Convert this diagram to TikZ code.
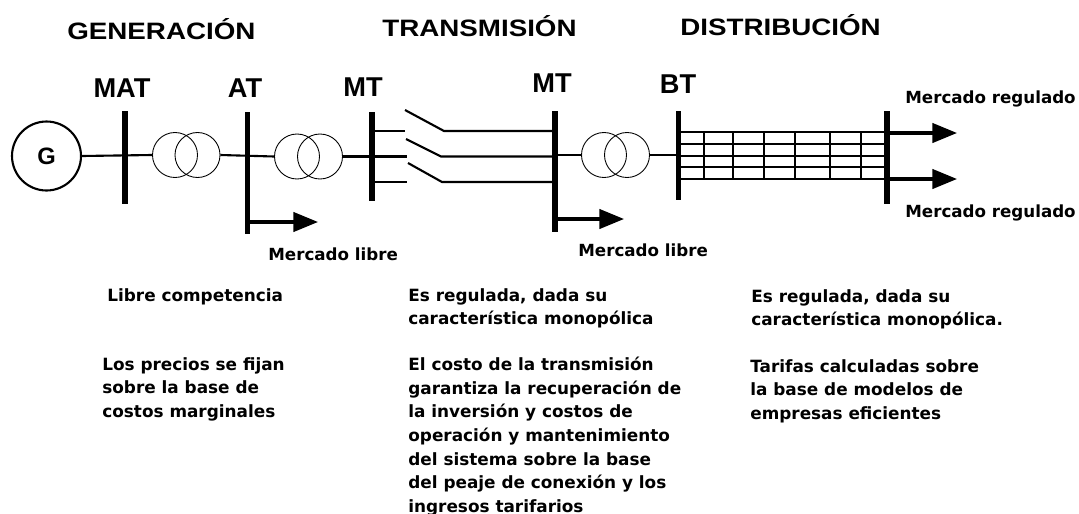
\documentclass[tikz,border=0pt]{standalone}
\usepackage{fontspec}
\setmainfont{DejaVu Sans}
\newfontfamily\headfont{Liberation Sans}
\newfontfamily\widefont[FakeStretch=1.17]{Liberation Sans}
\usetikzlibrary{arrows.meta}

\begin{document}
\begin{tikzpicture}[x=0.02cm, y=-0.02cm,
	bar/.style={line width=2.9pt},
	wire/.style={line width=1.2pt},
	thin wire/.style={line width=0.8pt},
	feeder/.style={line width=1.8pt, -{Triangle[length=14pt, width=11pt]}},
	gen/.style={draw=black, circle, line width=1.2pt, minimum size=1.38cm, inner sep=0pt, font=\headfont\bfseries\fontsize{13.5}{15}\selectfont},
	xfmr/.style={draw=black, circle, line width=0.5pt, minimum size=0.9cm, inner sep=0pt},
	head/.style={inner sep=0pt, anchor=west, font=\widefont\bfseries\fontsize{13.5}{15}\selectfont},
	level/.style={inner sep=0pt, font=\headfont\bfseries\fontsize{15.5}{17}\selectfont},
	tag/.style={inner sep=0pt, anchor=west, font=\bfseries\fontsize{9.5}{11}\selectfont},
	note/.style={inner sep=0pt, anchor=north west, align=left, font=\bfseries\fontsize{9.6}{13.4}\selectfont}]
	\useasboundingbox (0, 0) rectangle (1079, 514);
	\draw (67, 29) node[head] (gen1) {GENERACIÓN};
	\draw (382, 26) node[head] (tra1) {TRANSMISIÓN};
	\draw (680, 25) node[head] (dis1) {DISTRIBUCIÓN};
	\draw (122, 88) node[level] (lmat) {MAT};
	\draw (245, 88) node[level] (lat) {AT};
	\draw (363, 87) node[level] (lmt1) {MT};
	\draw (552, 83) node[level] (lmt2) {MT};
	\draw (678, 84) node[level] (lbt) {BT};

	\draw (46.5, 156) node[gen] (g) {G};
	\draw (175, 155) node[xfmr] (t1a) {};
	\draw (197.5, 155) node[xfmr] (t1b) {};
	\draw (297, 156.5) node[xfmr] (t2a) {};
	\draw (320, 156.5) node[xfmr] (t2b) {};
	\draw (604, 155) node[xfmr] (t3a) {};
	\draw (627, 155) node[xfmr] (t3b) {};

	\coordinate (mat1) at (125, 111);
	\coordinate (mat2) at (125, 204);
	\coordinate (at1) at (247.5, 112);
	\coordinate (at2) at (247.5, 234);
	\coordinate (mt1) at (372, 112);
	\coordinate (mt2) at (372, 201);
	\coordinate (mu1) at (555, 111);
	\coordinate (mu2) at (555, 232);
	\coordinate (bt1) at (678.5, 111);
	\coordinate (bt2) at (678.5, 200);
	\coordinate (rb1) at (887, 111);
	\coordinate (rb2) at (887, 204);
	\draw[bar] (mat1) -- (mat2);
	\draw[bar] (at1) -- (at2);
	\draw[bar] (mt1) -- (mt2);
	\draw[bar] (mu1) -- (mu2);
	\draw[bar] (bt1) -- (bt2);
	\draw[bar] (rb1) -- (rb2);

	\draw[wire] (g.east) -- (t1a.west);
	\draw[wire] (t1b.east) -- (t2a.west);
	\draw[wire] (t2b.east) -- (372, 156.5);
	\draw[wire] (555, 155) -- (t3a.west);
	\draw[wire] (t3b.east) -- (678.5, 155);

	\coordinate (s1a) at (405, 131);
	\coordinate (s1b) at (405, 110);
	\coordinate (s1c) at (444, 131);
	\coordinate (s2a) at (407, 156.5);
	\coordinate (s2b) at (406, 139);
	\coordinate (s2c) at (441, 156.5);
	\coordinate (s3a) at (407, 182);
	\coordinate (s3b) at (408, 163);
	\coordinate (s3c) at (442, 182);
	\draw[wire] (372, 131) -- (s1a);
	\draw[wire] (372, 156.5) -- (s2a);
	\draw[wire] (372, 182) -- (s3a);
	\draw[wire] (s1b) -- (s1c) -- (555, 131);
	\draw[wire] (s2b) -- (s2c) -- (555, 156.5);
	\draw[wire] (s3b) -- (s3c) -- (555, 182);

	\draw[feeder] (247.5, 222) -- (318, 222);
	\draw[feeder] (555, 219) -- (624, 219);
	\draw[feeder] (887, 133) -- (957, 133);
	\draw[feeder] (887, 179) -- (957, 179);

	\draw[line width=1.7pt] (678.5, 132) -- (887, 132);
	\draw[line width=1.7pt] (678.5, 179) -- (887, 179);
	\foreach \y in {144, 156, 167}
		\draw[thin wire] (678.5, \y) -- (887, \y);
	\foreach \x in {704, 733, 764, 795, 830, 861}
		\draw[thin wire] (\x, 132) -- (\x, 179);

	\draw (905, 99) node[tag] (mr1) {Mercado regulado};
	\draw (905, 213) node[tag] (mr2) {Mercado regulado};
	\draw (268, 254) node[tag] (ml1) {Mercado libre};
	\draw (578, 250) node[tag] (ml2) {Mercado libre};

	\draw (107, 288) node[note] (n1) {Libre competencia};
	\draw (102, 357) node[note] (n2) {Los precios se fijan\\sobre la base de\\costos marginales};
	\draw (408, 288) node[note] (n3) {Es regulada, dada su\\característica monopólica};
	\draw (408, 357) node[note] (n4) {El costo de la transmisión\\garantiza la recuperación de\\la inversión y costos de\\operación y mantenimiento\\del sistema sobre la base\\del peaje de conexión y los\\ingresos tarifarios};
	\draw (751, 289) node[note] (n5) {Es regulada, dada su\\característica monopólica.};
	\draw (750, 359) node[note] (n6) {Tarifas calculadas sobre\\la base de modelos de\\empresas eficientes};
\end{tikzpicture}
\end{document}
